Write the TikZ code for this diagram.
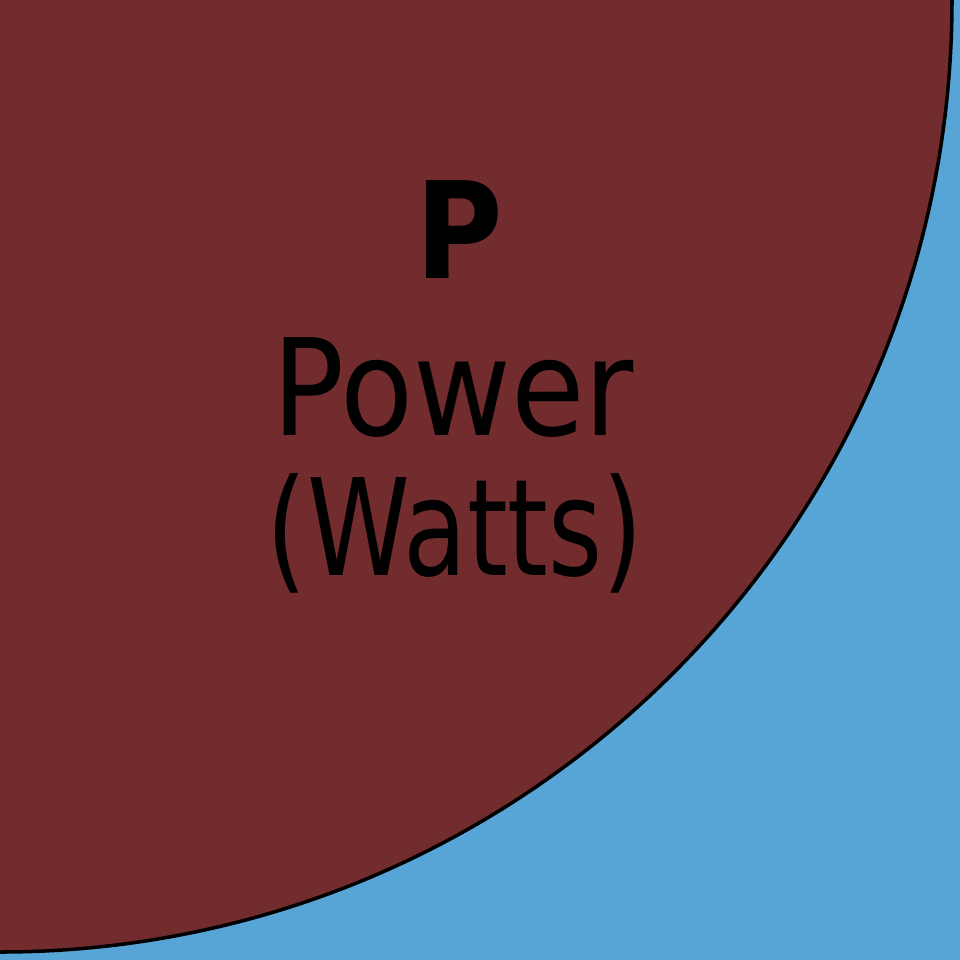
\documentclass[tikz,border=0pt]{standalone}
\usepackage{fontspec}
\setmainfont{DejaVu Sans}[FakeStretch=0.89]
\definecolor{powerRed}{HTML}{722C2E}
\definecolor{powerBlue}{HTML}{57A4D6}
\usetikzlibrary{positioning}
\tikzset{
	quadrante/.style={
		fill=powerRed,
		draw=black,
		line width=1pt
	},
	etiqueta/.style={
		anchor=base,
		inner sep=0pt,
		text=black,
		font=\fontsize{38.2}{46}\selectfont
	}
}
\begin{document}
\begin{tikzpicture}[x=0.01cm, y=-0.01cm]
	\fill[powerBlue] (0,0) rectangle (960,960);
	\useasboundingbox (0,0) rectangle (960,960);
	\begin{scope}
		\clip (0,0) rectangle (960,960);
		\draw[quadrante] (0,0) circle[radius=952];
	\end{scope}
	\node[etiqueta, font=\fontsize{38.2}{46}\selectfont\bfseries] (simbolo) at (459,278) {P};
	\node[etiqueta] (magnitud) at (453,435) {Power};
	\node[etiqueta] (unidad) at (455,575) {\scalebox{0.87}[1]{(Watts)}};
\end{tikzpicture}
\end{document}
